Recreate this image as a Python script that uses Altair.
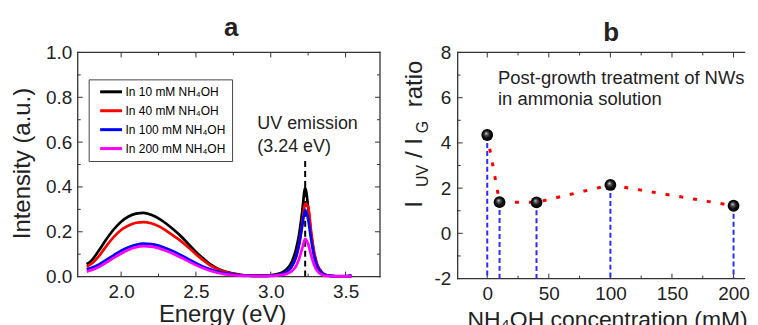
import altair as alt
import pandas as pd

# ---------------- data ----------------
energy = [1.77, 1.80, 1.85, 1.90, 1.95, 2.00, 2.05, 2.10, 2.15, 2.20, 2.25, 2.30, 2.35,
          2.40, 2.45, 2.50, 2.55, 2.60, 2.65, 2.70, 2.75, 2.80, 2.85, 2.90, 2.95,
          3.00, 3.05, 3.08, 3.11, 3.14, 3.17, 3.19, 3.21, 3.23, 3.25, 3.27, 3.29,
          3.31, 3.34, 3.37, 3.41, 3.46, 3.50, 3.54]
black = [0.055, 0.07, 0.115, 0.165, 0.21, 0.245, 0.268, 0.281, 0.284, 0.276, 0.26, 0.237, 0.21,
         0.18, 0.145, 0.11, 0.08, 0.053, 0.034, 0.021, 0.013, 0.008, 0.005, 0.004, 0.004,
         0.006, 0.012, 0.02, 0.035, 0.065, 0.125, 0.19, 0.29, 0.395, 0.31, 0.185, 0.10,
         0.052, 0.02, 0.007, 0.002, 0.001, 0.001, 0.002]
red = [0.044, 0.056, 0.09, 0.135, 0.176, 0.208, 0.228, 0.240, 0.243, 0.238, 0.225, 0.205, 0.182,
       0.158, 0.13, 0.10, 0.072, 0.048, 0.032, 0.02, 0.012, 0.007, 0.004, 0.003, 0.003,
       0.004, 0.008, 0.013, 0.024, 0.045, 0.09, 0.145, 0.235, 0.325, 0.31, 0.2, 0.11,
       0.055, 0.02, 0.007, 0.002, 0.001, 0.001, 0.001]
blue = [0.032, 0.038, 0.053, 0.074, 0.095, 0.115, 0.131, 0.142, 0.147, 0.145, 0.138, 0.126, 0.112,
        0.095, 0.078, 0.06, 0.044, 0.031, 0.021, 0.014, 0.009, 0.006, 0.004, 0.003, 0.003,
        0.004, 0.008, 0.013, 0.024, 0.045, 0.09, 0.145, 0.225, 0.298, 0.255, 0.165, 0.09,
        0.046, 0.017, 0.006, 0.003, 0.002, 0.002, 0.005]
magenta = [0.022, 0.028, 0.042, 0.062, 0.083, 0.103, 0.12, 0.131, 0.136, 0.134, 0.127, 0.115, 0.101,
           0.085, 0.068, 0.051, 0.037, 0.025, 0.016, 0.01, 0.006, 0.004, 0.003, 0.002, 0.002,
           0.003, 0.005, 0.008, 0.013, 0.024, 0.048, 0.08, 0.125, 0.168, 0.145, 0.095, 0.052,
           0.026, 0.009, 0.003, 0.001, 0.001, 0.001, 0.001]
series_labels = ["In 10 mM NH\u2084OH", "In 40 mM NH\u2084OH",
                 "In 100 mM NH\u2084OH", "In 200 mM NH\u2084OH"]
series_colors = ["#000000", "#ff0000", "#0000ff", "#ff00ff"]
uv_peak = 3.23

conc = [0, 10, 40, 100, 200]
ratio = [4.35, 1.38, 1.37, 2.14, 1.22]

# axis ranges and ticks
xa_dom, ya_dom = [1.71, 3.73], [0.0, 1.0]
xb_dom, yb_dom = [-24, 208.9], [-2, 8]
xa_major, xa_minor = [2.0, 2.5, 3.0, 3.5], [2.25, 2.75, 3.25]
ya_major, ya_minor = [0.0, 0.2, 0.4, 0.6, 0.8, 1.0], [0.1, 0.3, 0.5, 0.7, 0.9]
xb_major, xb_minor = [0, 50, 100, 150, 200], [25, 75, 125, 175]
yb_major, yb_minor = [-2, 0, 2, 4, 6, 8], [-1, 1, 3, 5, 7]

# ---------------- tables ----------------
rows = []
for lab, ser in zip(series_labels, [black, red, blue, magenta]):
    for e, v in zip(energy, ser):
        rows.append({"E": e, "I": v, "s": lab})
spec = pd.DataFrame(rows)
ann_a = pd.DataFrame({"E": [2.91, 2.91], "I": [0.681, 0.579], "t": ["UV emission", "(3.24 eV)"]})
uv = pd.DataFrame({"E": [uv_peak], "lo": [0.0], "hi": [0.53]})
pts = pd.DataFrame({"c": conc, "r": ratio})
ann_b = pd.DataFrame({"c": [8.7, 8.7], "r": [6.87, 5.92],
                      "t": ["Post-growth treatment of NWs", "in ammonia solution"]})
one = pd.DataFrame({"k": [0]})

FONT = "Liberation Sans"
TXT = "#222222"
FR = "#333333"

xa_scale = alt.Scale(domain=xa_dom, nice=False, zero=False)
ya_scale = alt.Scale(domain=ya_dom, nice=False, zero=False)
xb_scale = alt.Scale(domain=xb_dom, nice=False, zero=False)
yb_scale = alt.Scale(domain=yb_dom, nice=False, zero=False)

WA, HA = 303.5, 225
WB, HB = 288, 227


def ax(orient, values, fmt_expr, pad, **kw):
    d = dict(orient=orient, values=values, grid=False, domain=False, ticks=False,
             labelFlush=False, labelOverlap=False, labelExpr=fmt_expr,
             labelFont=FONT, labelFontSize=19, labelColor=TXT, labelPadding=pad)
    d.update(kw)
    return alt.Axis(**d)


def label(txt, x, y, size, angle=0, align="left", weight="normal"):
    return alt.Chart(one).mark_text(
        text=txt, fontSize=size, angle=angle, align=align, baseline="alphabetic",
        font=FONT, fontWeight=weight, color=TXT
    ).encode(x=alt.value(x), y=alt.value(y))


def frame_and_ticks(xs, ys, xdom, ydom, xmaj, xmin, ymaj, ymin, W, H, right=True):
    x0, x1 = xdom
    y0, y1 = ydom
    segs = [(x0, x1, y0, y0), (x0, x1, y1, y1), (x0, x0, y0, y1)]
    if right:
        segs.append((x1, x1, y0, y1))
    fr = pd.DataFrame(segs, columns=["xa", "xb", "ya", "yb"])
    layers = [alt.Chart(fr).mark_rule(color=FR, strokeWidth=1.3, strokeCap="square").encode(
        x=alt.X("xa:Q", scale=xs, axis=None), x2="xb:Q",
        y=alt.Y("ya:Q", scale=ys, axis=None), y2="yb:Q")]
    for vals, L in ((xmaj, 5), (xmin, 3)):
        base = alt.Chart(pd.DataFrame({"v": vals})).mark_rule(color=FR, strokeWidth=1)
        X = alt.X("v:Q", scale=xs, axis=None)
        layers.append(base.encode(x=X, y=alt.value(H), y2=alt.value(H - L)))
        layers.append(base.encode(x=X, y=alt.value(0), y2=alt.value(L)))
    for vals, L in ((ymaj, 5), (ymin, 3)):
        base = alt.Chart(pd.DataFrame({"v": vals})).mark_rule(color=FR, strokeWidth=1)
        Y = alt.Y("v:Q", scale=ys, axis=None)
        layers.append(base.encode(y=Y, x=alt.value(0), x2=alt.value(L)))
        if right:
            layers.append(base.encode(y=Y, x=alt.value(W), x2=alt.value(W - L)))
    return layers


# ---------------- panel a ----------------
lines = alt.Chart(spec).mark_line(strokeWidth=2.7, interpolate="monotone").encode(
    x=alt.X("E:Q", scale=xa_scale,
            axis=ax("bottom", xa_major, "format(datum.value, '.1f')", 6.3,
                    title="Energy (eV)", titleFont=FONT, titleFontSize=24,
                    titleFontWeight="normal", titleColor=TXT, titleBaseline="alphabetic",
                    titleX=145, titleY=45)),
    y=alt.Y("I:Q", scale=ya_scale,
            axis=ax("left", ya_major, "format(datum.value, '.1f')", 6,
                    title="Intensity (a.u.)", titleFont=FONT, titleFontSize=24,
                    titleFontWeight="normal", titleColor=TXT, titleBaseline="alphabetic",
                    titleAngle=270, titleAlign="center", titleX=-48, titleY=111)),
    color=alt.Color("s:N", scale=alt.Scale(domain=series_labels, range=series_colors),
                    legend=alt.Legend(orient="none", legendX=11, legendY=27, title=None,
                                      symbolType="M-2.2,0H2.2", symbolStrokeWidth=3,
                                      symbolSize=100, symbolOffset=10,
                                      labelFont=FONT, labelFontSize=12,
                                      labelColor="#000", labelOffset=8, padding=6,
                                      rowPadding=6, strokeColor="#444",
                                      fillColor="white")),
)
uv_rule = alt.Chart(uv).mark_rule(color="#000", strokeWidth=2, strokeDash=[6, 4]).encode(
    x=alt.X("E:Q", scale=xa_scale, axis=None),
    y=alt.Y("lo:Q", scale=ya_scale, axis=None),
    y2="hi:Q",
)
txt_a = alt.Chart(ann_a).mark_text(align="left", baseline="middle", fontSize=18,
                                   font=FONT, color=TXT).encode(
    x=alt.X("E:Q", scale=xa_scale, axis=None),
    y=alt.Y("I:Q", scale=ya_scale, axis=None),
    text="t:N",
)
panel_a = alt.layer(
    *frame_and_ticks(xa_scale, ya_scale, xa_dom, ya_dom, xa_major, xa_minor,
                     ya_major, ya_minor, WA, HA),
    uv_rule, lines, txt_a, label("a", 154, -17, 26, align="center", weight="bold")
).resolve_axis(x="independent", y="independent").properties(width=WA, height=HA)

# ---------------- panel b ----------------
base_b = alt.Chart(pts)
drops = base_b.mark_rule(color="#2b2bff", strokeWidth=2, strokeDash=[5, 3]).encode(
    x=alt.X("c:Q", scale=xb_scale,
            axis=ax("bottom", xb_major, "'' + datum.value", 6.3,
                    title="NH\u2084OH concentration (mM)", titleFont=FONT,
                    titleFontSize=23, titleFontWeight="normal", titleColor=TXT,
                    titleBaseline="alphabetic", titleX=150, titleY=48)),
    y=alt.Y("r:Q", scale=yb_scale,
            axis=ax("left", yb_major, "'' + datum.value", 7, title=None)),
    y2=alt.datum(-2),
)
trend = base_b.mark_line(color="#ff0000", strokeWidth=3, strokeDash=[4, 10]).encode(
    x=alt.X("c:Q", scale=xb_scale, axis=None),
    y=alt.Y("r:Q", scale=yb_scale, axis=None),
)
sphere = alt.Gradient(
    gradient="radial",
    stops=[alt.GradientStop(offset=0, color="#f2f2f2"),
           alt.GradientStop(offset=0.25, color="#606060"),
           alt.GradientStop(offset=0.6, color="#111111"),
           alt.GradientStop(offset=1, color="#000000")],
    x1=0.4, y1=0.35, r1=0, x2=0.5, y2=0.5, r2=0.5,
)
balls = base_b.mark_circle(size=140, opacity=1, color=sphere).encode(
    x=alt.X("c:Q", scale=xb_scale, axis=None),
    y=alt.Y("r:Q", scale=yb_scale, axis=None),
)
txt_b = alt.Chart(ann_b).mark_text(align="left", baseline="middle", fontSize=18.5,
                                   font=FONT, color=TXT).encode(
    x=alt.X("c:Q", scale=xb_scale, axis=None),
    y=alt.Y("r:Q", scale=yb_scale, axis=None),
    text="t:N",
)
panel_b = alt.layer(
    *frame_and_ticks(xb_scale, yb_scale, xb_dom, yb_dom, xb_major, xb_minor,
                     yb_major, yb_minor, WB, HB, right=False),
    drops, trend, balls, txt_b,
    label("b", 154, -12, 26, align="center", weight="bold"),
    label("I", -36, 156, 24, angle=270),
    label("UV", -29.5, 135, 16, angle=270),
    label("/ I", -36, 106, 24, angle=270),
    label("G", -29.5, 81, 16, angle=270),
    label("ratio", -36, 55, 24, angle=270),
).resolve_axis(x="independent", y="independent").properties(width=WB, height=HB)

chart = alt.concat(panel_a, panel_b, columns=2, spacing=21.5, align="none").properties(
    padding={"left": 3, "top": 6, "right": 0, "bottom": 0},
    background="white",
).configure_view(stroke=None)

chart.save("out.html", embed_options={"renderer": "svg", "actions": False})
